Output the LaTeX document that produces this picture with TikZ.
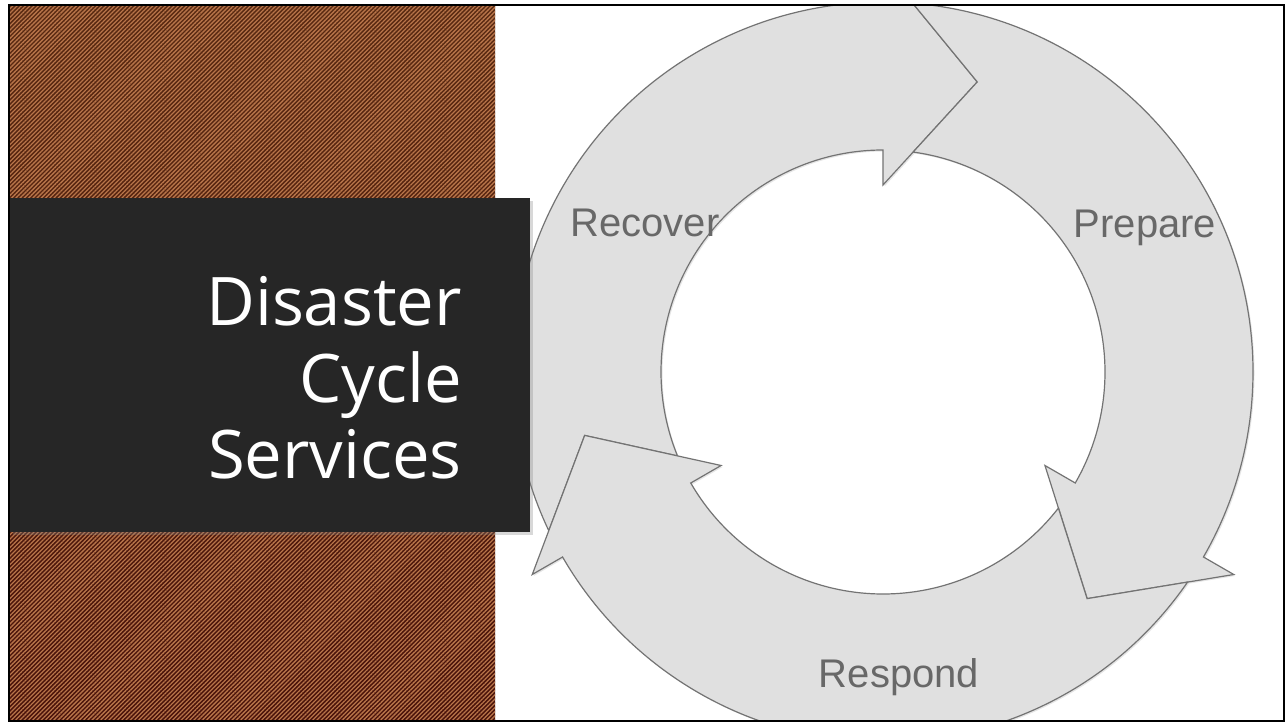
\documentclass[tikz,border=0pt]{standalone}
\usepackage{fontspec}
\setmainfont{Liberation Sans}
\newfontfamily\titlefont{Open Sans}
\usetikzlibrary{patterns.meta,shadows}

\definecolor{ringgray}{HTML}{E0E0E0}
\definecolor{ringline}{HTML}{737373}
\definecolor{labelgray}{HTML}{686868}
\definecolor{titlebox}{HTML}{262626}
\definecolor{browntop}{HTML}{5A2A12}
\definecolor{brownbot}{HTML}{4A120A}
\definecolor{brownline}{HTML}{B8754A}

\tikzset{
  ringarrow/.style={fill=ringgray, draw=ringline, line width=1.2pt, line join=miter,
    drop shadow={shadow xshift=1.5pt, shadow yshift=-1.5pt, opacity=0.2}},
  ringlabel/.style={text=labelgray, font=\fontsize{40}{40}\selectfont, anchor=base, inner sep=0pt},
  titleline/.style={text=white, font=\titlefont\fontsize{67}{77}\selectfont, anchor=base east, inner sep=0pt},
}

% one curved arrow of the cycle, #1 = angle of the head base
\newcommand{\cyclearrow}[1]{%
  \pgfmathsetmacro{\tipa}{#1-18}
  \pgfmathsetmacro{\tailb}{#1+120}
  \pgfmathsetmacro{\tailo}{\tailb-4.6}
  \pgfmathsetmacro{\taili}{\tailb-7.8}
  \pgfmathsetmacro{\tailt}{\tailb-18}
  \draw[ringarrow] (\tailo:370) arc[start angle=\tailo, end angle=#1, radius=370]
    -- (#1:405) -- (\tipa:305) -- (#1:187) -- (#1:222)
    arc[start angle=#1, end angle=\taili, radius=222] -- (\tailt:305) -- cycle;
}

\begin{document}
\begin{tikzpicture}[x=1pt, y=1pt]
\useasboundingbox (0,0) rectangle (1285,723);
\fill[white] (0,0) rectangle (1285,723);

% brown panel
\shade[top color=browntop, bottom color=brownbot] (10,3) rectangle (495,718);
\fill[pattern={Lines[angle=45, distance=3pt, line width=1.3pt]}, pattern color=brownline, fill opacity=0.6] (10,3) rectangle (495,718);

% cycle
\begin{scope}
\clip (10,2) rectangle (1284,718);
\begin{scope}[shift={(883,351)}]
\cyclearrow{90}
\cyclearrow{-30}
\cyclearrow{210}
\end{scope}
\end{scope}

\node[ringlabel] (recover) at (645,486) {Recover};
\node[ringlabel] (prepare) at (1145,485) {Prepare};
\node[ringlabel] (respond) at (899,36) {Respond};

% title box
\fill[titlebox, drop shadow={shadow xshift=3pt, shadow yshift=-3pt, opacity=0.3}] (10,191) rectangle (530,525);
\node[titleline] (title1) at (462,397) {Disaster};
\node[titleline] (title2) at (462,320) {Cycle};
\node[titleline] (title3) at (462,244) {Services};

% frame
\draw[line width=2pt] (9,2) rectangle (1284,718);
\end{tikzpicture}
\end{document}
